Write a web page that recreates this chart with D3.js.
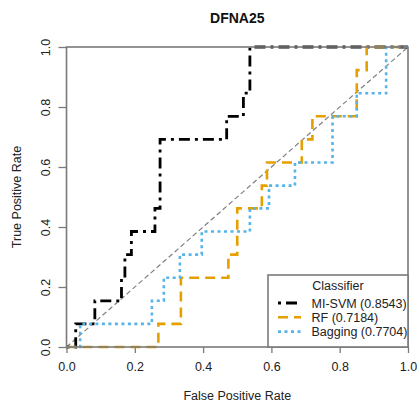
<!DOCTYPE html>
<html>
<head>
<meta charset="utf-8">
<script src="https://cdn.jsdelivr.net/npm/d3@7"></script>
<style>
  html, body { margin: 0; padding: 0; background: #fff; }
  svg { display: block; font-family: "Liberation Sans", Arial, sans-serif; }
</style>
</head>
<body>
<svg id="chart" width="417" height="404"></svg>
<script>
// ROC curve vertices (false positive rate / true positive rate) per classifier
const misvmFpr = [0, 0.027, 0.027, 0.083, 0.083, 0.161, 0.161, 0.171, 0.171, 0.190, 0.190, 0.259, 0.259, 0.274, 0.274, 0.469, 0.469, 0.518, 0.518, 0.537, 0.537, 1];
const misvmTpr = [0, 0, 0.077, 0.077, 0.154, 0.154, 0.231, 0.231, 0.308, 0.308, 0.385, 0.385, 0.462, 0.462, 0.692, 0.692, 0.769, 0.769, 0.846, 0.846, 1, 1];

const rfFpr = [0, 0.269, 0.269, 0.335, 0.335, 0.474, 0.474, 0.500, 0.500, 0.572, 0.572, 0.587, 0.587, 0.689, 0.689, 0.720, 0.720, 0.850, 0.850, 0.879, 0.879, 1];
const rfTpr = [0, 0, 0.077, 0.077, 0.231, 0.231, 0.308, 0.308, 0.462, 0.462, 0.538, 0.538, 0.615, 0.615, 0.692, 0.692, 0.769, 0.769, 0.923, 0.923, 1, 1];

const baggingFpr = [0, 0.040, 0.040, 0.250, 0.250, 0.285, 0.285, 0.332, 0.332, 0.396, 0.396, 0.537, 0.537, 0.593, 0.593, 0.669, 0.669, 0.779, 0.779, 0.850, 0.850, 0.936, 0.936, 1];
const baggingTpr = [0, 0, 0.077, 0.077, 0.154, 0.154, 0.231, 0.231, 0.308, 0.308, 0.385, 0.385, 0.462, 0.462, 0.538, 0.538, 0.615, 0.615, 0.769, 0.769, 0.846, 0.846, 1, 1];

const classifierNames = ["MI-SVM", "RF", "Bagging"];
const aucValues = ["0.8543", "0.7184", "0.7704"];
const axisTicks = [0, 0.2, 0.4, 0.6, 0.8, 1.0];

const chartTitle = "DFNA25";
const xTitle = "False Positive Rate";
const yTitle = "True Positive Rate";
const legendTitle = "Classifier";

// drawing styles, one per classifier
const styles = [
  { color: "#000000", width: 2.8, dash: "3,5,11,5" },
  { color: "#E69F00", width: 2.6, dash: "10,6" },
  { color: "#56B4E9", width: 2.6, dash: "3,3.5" }
];

const series = [
  { fpr: misvmFpr, tpr: misvmTpr },
  { fpr: rfFpr, tpr: rfTpr },
  { fpr: baggingFpr, tpr: baggingTpr }
];

const svg = d3.select("#chart");
const plotLeft = 66.5, plotRight = 408, plotTop = 47, plotBottom = 347;

const x = d3.scaleLinear().domain([0, 1]).range([plotLeft, plotRight]);
const y = d3.scaleLinear().domain([0, 1]).range([plotBottom, plotTop]);

const axisColor = "#7a7a7a";
const textColor = "#222";

// title
svg.append("text")
  .attr("x", (plotLeft + plotRight) / 2).attr("y", 23)
  .attr("text-anchor", "middle")
  .attr("font-size", 14).attr("font-weight", "bold")
  .attr("fill", "#111")
  .text(chartTitle);

// axes
const xAxis = d3.axisBottom(x).tickValues(axisTicks).tickFormat(d3.format(".1f")).tickSize(6).tickPadding(7);
const yAxis = d3.axisLeft(y).tickValues(axisTicks).tickFormat(d3.format(".1f")).tickSize(8).tickPadding(8);

const gx = svg.append("g").attr("transform", `translate(0,${plotBottom})`).call(xAxis);
const gy = svg.append("g").attr("transform", `translate(${plotLeft},0)`).call(yAxis);

[gx, gy].forEach(g => {
  g.select(".domain").remove();
  g.selectAll(".tick line").attr("stroke", axisColor).attr("stroke-width", 1.3);
  g.selectAll(".tick text").attr("fill", textColor).attr("font-size", 12.5)
    .attr("font-family", "'Liberation Sans', Arial, sans-serif");
});
gx.selectAll(".tick text").attr("dy", "0.9em");
// vertical tick labels on the y axis
gy.selectAll(".tick text")
  .attr("text-anchor", "middle")
  .attr("x", 0).attr("y", 0).attr("dy", 0)
  .attr("transform", "translate(-16.5,0) rotate(-90)");

// axis titles
svg.append("text")
  .attr("x", (plotLeft + plotRight) / 2).attr("y", 400)
  .attr("text-anchor", "middle")
  .attr("font-size", 12.5).attr("fill", textColor)
  .text(xTitle);

svg.append("text")
  .attr("transform", `translate(20.5,${(plotTop + plotBottom) / 2}) rotate(-90)`)
  .attr("text-anchor", "middle")
  .attr("font-size", 12.5).attr("fill", textColor)
  .text(yTitle);

// chance diagonal
svg.append("line")
  .attr("x1", x(0)).attr("y1", y(0)).attr("x2", x(1)).attr("y2", y(1))
  .attr("stroke", "#808080").attr("stroke-width", 1.2)
  .attr("stroke-dasharray", "5,3");

// ROC curves
const line = d3.line().x(d => x(d[0])).y(d => y(d[1]));
series.forEach((s, i) => {
  const pts = s.fpr.map((f, k) => [f, s.tpr[k]]);
  svg.append("path")
    .datum(pts)
    .attr("d", line)
    .attr("fill", "none")
    .attr("stroke", styles[i].color)
    .attr("stroke-width", styles[i].width)
    .attr("stroke-dasharray", styles[i].dash)
    .attr("stroke-linecap", "butt");
});

// plot frame
svg.append("rect")
  .attr("x", plotLeft).attr("y", plotTop)
  .attr("width", plotRight - plotLeft).attr("height", plotBottom - plotTop)
  .attr("fill", "none").attr("stroke", axisColor).attr("stroke-width", 1.6);

// legend (bottom right corner)
const legX = 268, legY = 275;
const lg = svg.append("g");
lg.append("rect")
  .attr("x", legX).attr("y", legY)
  .attr("width", plotRight - legX).attr("height", plotBottom - legY)
  .attr("fill", "#fff").attr("stroke", axisColor).attr("stroke-width", 1.6);
lg.append("text")
  .attr("x", 338).attr("y", legY + 14.5)
  .attr("text-anchor", "middle")
  .attr("font-size", 12.5).attr("fill", textColor)
  .text(legendTitle);

classifierNames.forEach((name, i) => {
  const cy = legY + 28 + i * 14.3;
  lg.append("line")
    .attr("x1", 278).attr("x2", 301)
    .attr("y1", cy).attr("y2", cy)
    .attr("stroke", styles[i].color)
    .attr("stroke-width", styles[i].width)
    .attr("stroke-dasharray", styles[i].dash);
  lg.append("text")
    .attr("x", 311.5).attr("y", cy + 4.5)
    .attr("font-size", 12.5).attr("fill", textColor)
    .text(`${name} (${aucValues[i]})`);
});
</script>
</body>
</html>
